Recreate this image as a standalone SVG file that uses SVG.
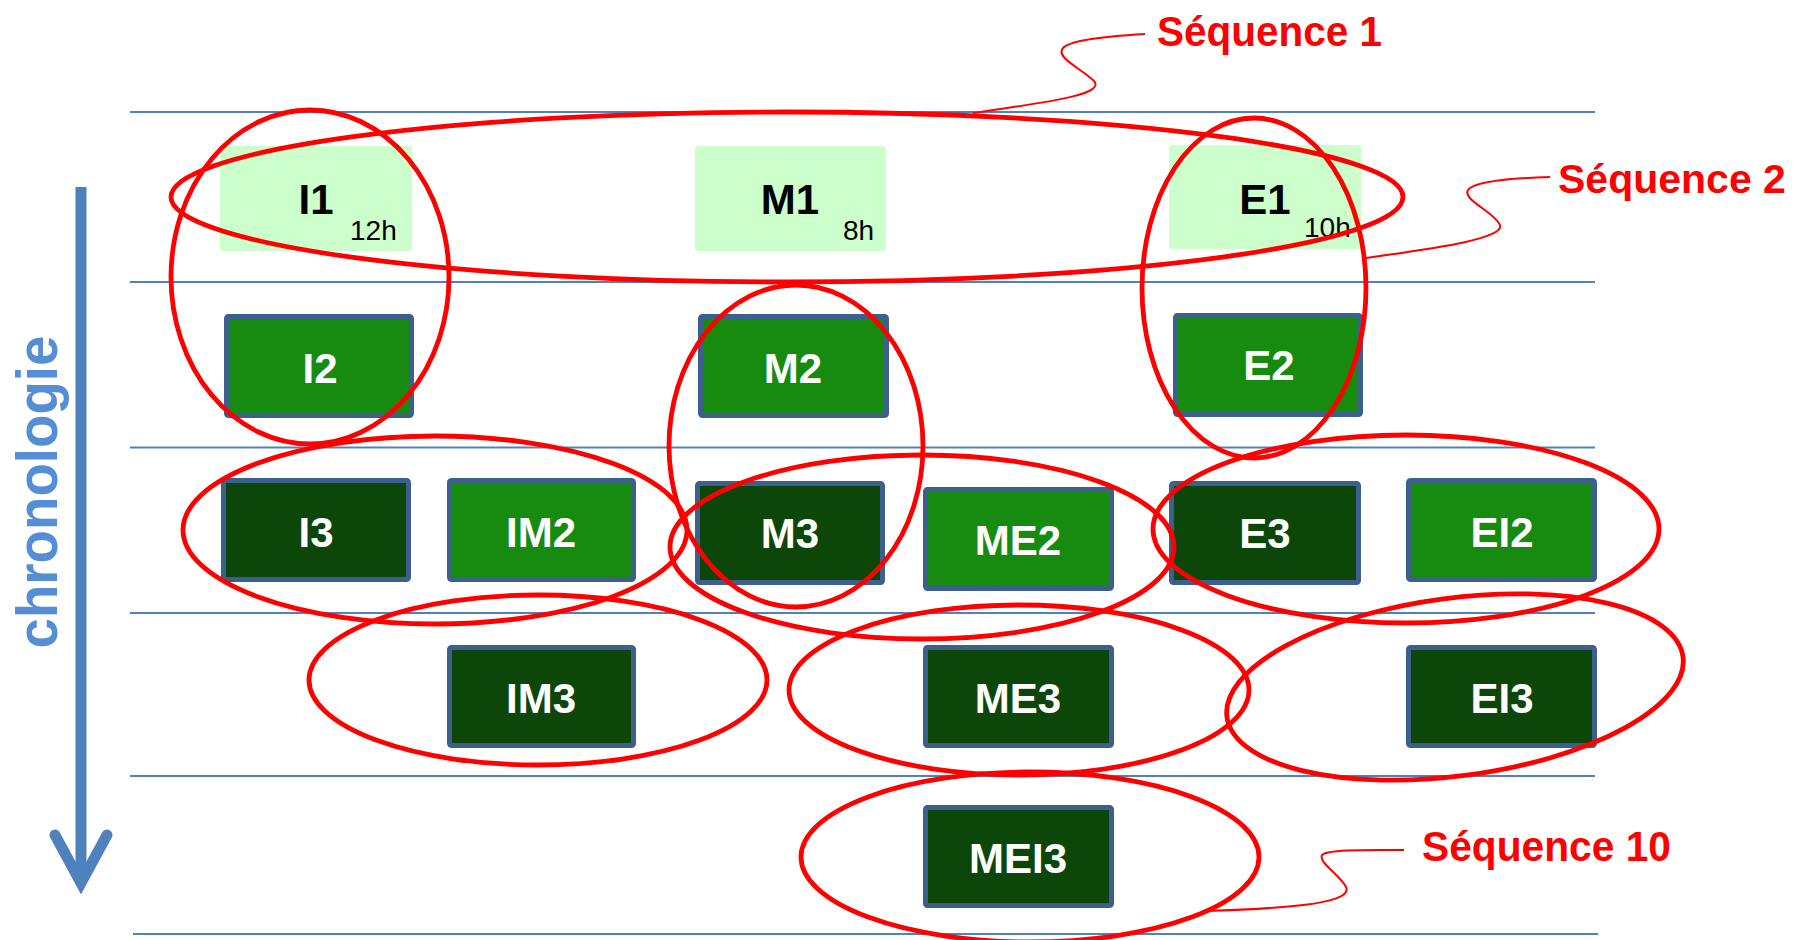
<svg xmlns="http://www.w3.org/2000/svg" width="1796" height="940" viewBox="0 0 1796 940">
<defs>
<style>
.grid{stroke:#4F81BD;stroke-width:2;fill:none}
.lt{fill:#CCFFCC}
.md{fill:#178A10;stroke:#3C5F8D;stroke-width:5}
.dk{fill:#0C4709;stroke:#3C5F8D;stroke-width:5}
.lb{font-family:"Liberation Sans",Arial,sans-serif;font-weight:bold;font-size:42px;text-anchor:middle}
.w{fill:#FFFFFF}
.b{fill:#000000}
.sm{font-family:"Liberation Sans",Arial,sans-serif;font-size:28px;fill:#000000}
.ring{fill:none;stroke:#FF0000;stroke-width:4.8}
.call{fill:none;stroke:#FF0000;stroke-width:2}
.seq{font-family:"Liberation Sans",Arial,sans-serif;font-weight:bold;font-size:43px;fill:#FF0000}
</style>
</defs>
<rect width="1796" height="940" fill="#FFFFFF"/>
<g id="grid">
<line class="grid" x1="130" y1="112" x2="1595" y2="112"/>
<line class="grid" x1="130" y1="282" x2="1595" y2="282"/>
<line class="grid" x1="130" y1="447.5" x2="1595" y2="447.5"/>
<line class="grid" x1="130" y1="613" x2="1595" y2="613"/>
<line class="grid" x1="130" y1="776" x2="1595" y2="776"/>
<line class="grid" x1="133" y1="934" x2="1598" y2="934"/>
</g>
<g id="timeline">
<line x1="81" y1="187" x2="81" y2="878" stroke="#4F81BD" stroke-width="11"/>
<polyline points="55,835 81,883 107,835" fill="none" stroke="#4F81BD" stroke-width="11" stroke-linecap="round" stroke-linejoin="miter"/>
<text transform="translate(57,492) rotate(-90)" x="0" y="0" text-anchor="middle" font-family="'Liberation Sans',Arial,sans-serif" font-weight="bold" font-size="57" fill="#558ED5" textLength="313" lengthAdjust="spacingAndGlyphs">chronologie</text>
</g>
<g id="I1"><rect class="lt" x="220" y="146" width="192" height="105" rx="3"/><text class="lb b" x="316" y="214">I1</text><text class="sm" x="350" y="240">12h</text></g>
<g id="M1"><rect class="lt" x="695" y="146" width="191" height="105" rx="3"/><text class="lb b" x="790" y="214">M1</text><text class="sm" x="843" y="240">8h</text></g>
<g id="E1"><rect class="lt" x="1169" y="145" width="192" height="104" rx="3"/><text class="lb b" x="1265" y="214">E1</text><text class="sm" x="1304" y="237">10h</text></g>
<g id="I2"><rect class="md" x="226.5" y="316.5" width="185" height="99" rx="2"/><text class="lb w" x="320" y="383">I2</text></g>
<g id="M2"><rect class="md" x="700.5" y="316.5" width="186" height="99" rx="2"/><text class="lb w" x="793" y="383">M2</text></g>
<g id="E2"><rect class="md" x="1175.5" y="315.5" width="185" height="99" rx="2"/><text class="lb w" x="1269" y="380">E2</text></g>
<g id="I3"><rect class="dk" x="223.5" y="480.5" width="185" height="99" rx="2"/><text class="lb w" x="316" y="547">I3</text></g>
<g id="IM2"><rect class="md" x="449.5" y="480.5" width="184" height="99" rx="2"/><text class="lb w" x="541" y="547">IM2</text></g>
<g id="M3"><rect class="dk" x="697.5" y="483.5" width="185" height="99" rx="2"/><text class="lb w" x="790" y="548">M3</text></g>
<g id="ME2"><rect class="md" x="925.5" y="489.5" width="186" height="99" rx="2"/><text class="lb w" x="1018" y="555">ME2</text></g>
<g id="E3"><rect class="dk" x="1171.5" y="483.5" width="187" height="99" rx="2"/><text class="lb w" x="1265" y="548">E3</text></g>
<g id="EI2"><rect class="md" x="1408.5" y="480.5" width="186" height="99" rx="2"/><text class="lb w" x="1502" y="547">EI2</text></g>
<g id="IM3"><rect class="dk" x="449.5" y="647.5" width="184" height="98" rx="2"/><text class="lb w" x="541" y="713">IM3</text></g>
<g id="ME3"><rect class="dk" x="925.5" y="647.5" width="186" height="98" rx="2"/><text class="lb w" x="1018" y="713">ME3</text></g>
<g id="EI3"><rect class="dk" x="1408.5" y="647.5" width="186" height="98" rx="2"/><text class="lb w" x="1502" y="713">EI3</text></g>
<g id="MEI3"><rect class="dk" x="925.5" y="807.5" width="186" height="98" rx="2"/><text class="lb w" x="1018" y="873">MEI3</text></g>
<g id="sequences">
<ellipse class="ring" cx="787" cy="197" rx="616" ry="85"/>
<ellipse class="ring" cx="310" cy="277" rx="139" ry="167"/>
<ellipse class="ring" cx="796" cy="446" rx="127" ry="161"/>
<ellipse class="ring" cx="1254" cy="288" rx="112" ry="170"/>
<ellipse class="ring" cx="435" cy="530" rx="252" ry="94"/>
<ellipse class="ring" cx="922" cy="547" rx="252" ry="92"/>
<ellipse class="ring" cx="1406" cy="529" rx="253" ry="94"/>
<ellipse class="ring" cx="538" cy="680" rx="229" ry="85"/>
<ellipse class="ring" cx="1019" cy="690" rx="230" ry="85"/>
<ellipse class="ring" cx="1455" cy="687" rx="230" ry="89" transform="rotate(-7.5 1455 687)"/>
<ellipse class="ring" cx="1030" cy="857" rx="229" ry="85"/>
</g>
<g id="connectors">
<path class="call" d="M973 113 C1040 103 1110 95 1093 80 C1080 68 1055 57 1063 48 C1070 40 1110 36 1145 34"/>
<path class="call" d="M1366 258 C1420 250 1505 240 1500 225 C1495 212 1462 200 1468 190 C1475 180 1520 178 1550 177"/>
<path class="call" d="M1205 911 C1270 909 1355 905 1346 887 C1340 875 1318 862 1322 855 C1328 849 1370 850 1404 850"/>
</g>
<g id="labels">
<text class="seq" x="1157" y="46" textLength="225" lengthAdjust="spacingAndGlyphs">Séquence 1</text>
<text class="seq" x="1558" y="193" font-size="41" style="font-size:41px">Séquence 2</text>
<text class="seq" x="1422" y="861" textLength="249" lengthAdjust="spacingAndGlyphs">Séquence 10</text>
</g>
</svg>
